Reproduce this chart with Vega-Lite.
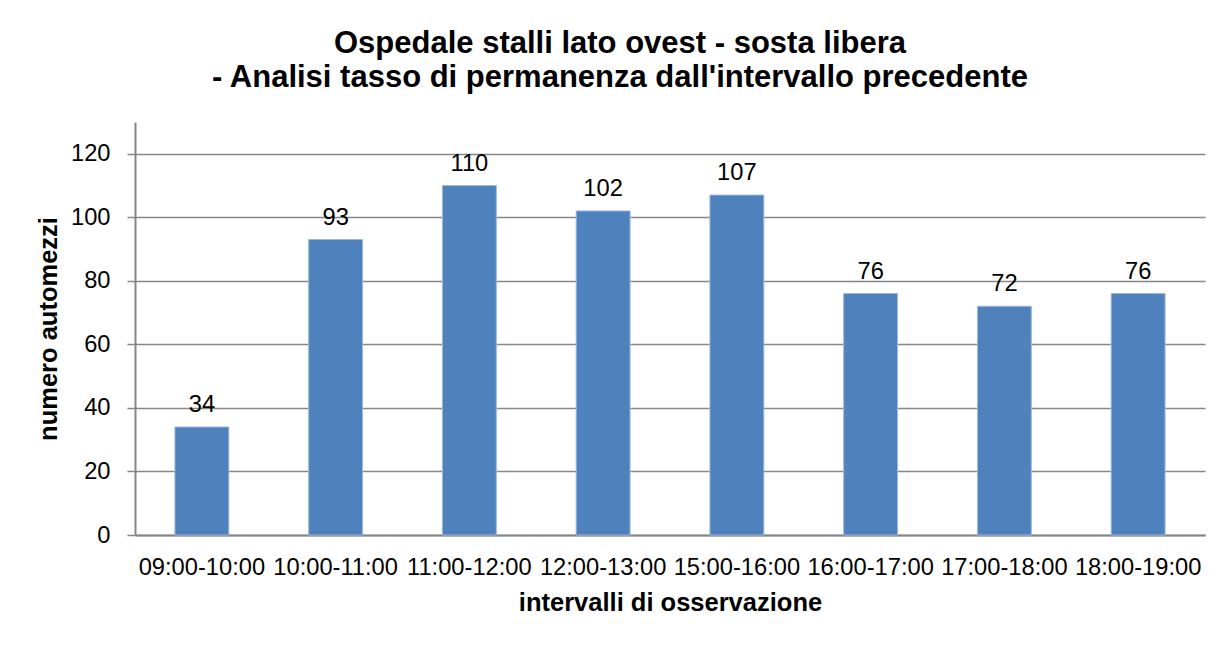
{
  "$schema": "https://vega.github.io/schema/vega-lite/v6.json",
  "autosize": {"type": "none"},
  "width": 1070,
  "height": 413,
  "padding": {"left": 135, "top": 122, "right": 14, "bottom": 125},
  "background": "white",
  "title": {
    "text": ["Ospedale stalli lato ovest - sosta libera", "- Analisi tasso di permanenza dall'intervallo precedente"],
    "font": "Liberation Sans",
    "fontSize": 31,
    "fontWeight": "bold",
    "color": "#000000",
    "anchor": "middle",
    "dx": -50,
    "lineHeight": 34,
    "offset": 28
  },
  "data": {
    "values": [
      {"intervallo": "09:00-10:00", "automezzi": 34},
      {"intervallo": "10:00-11:00", "automezzi": 93},
      {"intervallo": "11:00-12:00", "automezzi": 110},
      {"intervallo": "12:00-13:00", "automezzi": 102},
      {"intervallo": "15:00-16:00", "automezzi": 107},
      {"intervallo": "16:00-17:00", "automezzi": 76},
      {"intervallo": "17:00-18:00", "automezzi": 72},
      {"intervallo": "18:00-19:00", "automezzi": 76}
    ]
  },
  "encoding": {
    "x": {
      "field": "intervallo",
      "type": "nominal",
      "sort": null,
      "scale": {"paddingInner": 0.597, "paddingOuter": 0.2985},
      "axis": {
        "title": "intervalli di osservazione",
        "labelAngle": 0,
        "ticks": false,
        "tickSize": 0,
        "labelPadding": 20,
        "labelFont": "Liberation Sans",
        "labelFontSize": 23.7,
        "labelColor": "#000000",
        "titleFont": "Liberation Sans",
        "titleFontSize": 25.5,
        "titleFontWeight": "bold",
        "titleColor": "#000000",
        "titlePadding": 12,
        "domainColor": "#868686",
        "domainWidth": 2,
        "grid": false
      }
    },
    "y": {
      "field": "automezzi",
      "type": "quantitative",
      "scale": {"domain": [0, 130], "nice": false},
      "axis": {
        "title": "numero automezzi",
        "values": [0, 20, 40, 60, 80, 100, 120],
        "tickSize": 8,
        "tickColor": "#868686",
        "tickWidth": 1.5,
        "labelPadding": 17,
        "labelFont": "Liberation Sans",
        "labelFontSize": 23.7,
        "labelColor": "#000000",
        "titleFont": "Liberation Sans",
        "titleFontSize": 25.5,
        "titleFontWeight": "bold",
        "titleColor": "#000000",
        "titlePadding": 9,
        "domainColor": "#868686",
        "domainWidth": 2,
        "grid": true,
        "gridColor": "#868686",
        "gridWidth": 1.5
      }
    }
  },
  "layer": [
    {
      "mark": {"type": "bar", "color": "#4F81BD", "stroke": "#9db8dd", "strokeWidth": 1}
    },
    {
      "mark": {"type": "text", "baseline": "alphabetic", "dy": -15, "font": "Liberation Sans", "fontSize": 23.7, "color": "#000000"},
      "encoding": {"text": {"field": "automezzi", "type": "quantitative"}}
    }
  ],
  "config": {"view": {"stroke": null}}
}
